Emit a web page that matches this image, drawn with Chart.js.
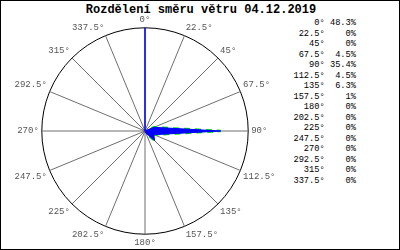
<!DOCTYPE html>
<html>
<head>
<meta charset="utf-8">
<script src="https://cdn.jsdelivr.net/npm/chart.js@4"></script>
<style>
  html, body { margin: 0; padding: 0; background: #fff; }
  #box { position: relative; width: 400px; height: 250px; box-sizing: border-box; border: 1px solid #000; overflow: hidden; }
  #titulo { position: absolute; left: 0; top: 2px; width: 400px; text-align: center; font: bold 12px "Liberation Mono", "DejaVu Sans Mono", monospace; color: #000; }
  #wrap { position: absolute; left: 0; top: 13px; width: 289px; height: 235px; }
  #leyenda { position: absolute; right: 43px; top: 17px; margin: 0; font: 8.7px/10.5px "Liberation Mono", "DejaVu Sans Mono", monospace; color: #000; white-space: pre; text-align: right; }
</style>
</head>
<body>
<div id="box">
  <div id="titulo">Rozdělení směru větru 04.12.2019</div>
  <div id="wrap"><canvas id="graficaViento"></canvas></div>
  <pre id="leyenda"></pre>
</div>
<script>
const direcciones = ['0°', '22.5°', '45°', '67.5°', '90°', '112.5°', '135°', '157.5°',
                     '180°', '202.5°', '225°', '247.5°', '270°', '292.5°', '315°', '337.5°'];
const porcentajes = [48.3, 0, 0, 4.5, 35.4, 4.5, 6.3, 1, 0, 0, 0, 0, 0, 0, 0, 0];

// leyenda de texto a la derecha
document.getElementById('leyenda').textContent = direcciones
  .map((d, i) => d.padStart(6) + ' ' + (porcentajes[i] + '%').padStart(5))
  .join('\n');

// el borde verde solo a la derecha del centro (no sobre la punta de 0°)
const recorteVerde = {
  id: 'recorteVerde',
  beforeDatasetDraw(chart, args) {
    if (args.index !== 1) return;
    const r = chart.scales.r;
    chart.ctx.save();
    chart.ctx.beginPath();
    chart.ctx.rect(r.xCenter + 2, 0, chart.width, chart.height);
    chart.ctx.clip();
  },
  afterDatasetDraw(chart, args) {
    if (args.index === 1) chart.ctx.restore();
  }
};

const maximo = Math.max(...porcentajes);
const ctx = document.getElementById('graficaViento').getContext('2d');
const vientoChart = new Chart(ctx, {
  type: 'radar',
  data: {
    labels: direcciones,
    datasets: [
      {
        label: 'Směr větru',
        data: porcentajes,
        borderColor: '#0000ff',
        backgroundColor: '#0000ff',
        borderWidth: 1,
        pointRadius: 0,
        tension: 0,
        fill: true,
        order: 1
      },
      {
        label: 'obrys',
        data: porcentajes,
        borderColor: '#00e000',
        backgroundColor: 'rgba(0,0,0,0)',
        borderWidth: 2.5,
        borderDash: [6, 5],
        pointRadius: 0,
        tension: 0,
        fill: false,
        order: 2
      }
    ]
  },
  options: {
    responsive: true,
    maintainAspectRatio: false,
    animation: false,
    scales: {
      r: {
        min: 0,
        max: maximo,
        ticks: {
          display: false,
          stepSize: maximo
        },
        grid: {
          circular: true,
          color: '#000',
          lineWidth: 1
        },
        angleLines: {
          color: '#6e6e6e',
          lineWidth: 1
        },
        pointLabels: {
          color: '#555',
          padding: 3,
          font: {
            family: '"Liberation Mono", "DejaVu Sans Mono", monospace',
            size: 9
          }
        }
      }
    },
    plugins: {
      legend: { display: false },
      tooltip: { enabled: false }
    }
  },
  plugins: [recorteVerde]
});
</script>
</body>
</html>
